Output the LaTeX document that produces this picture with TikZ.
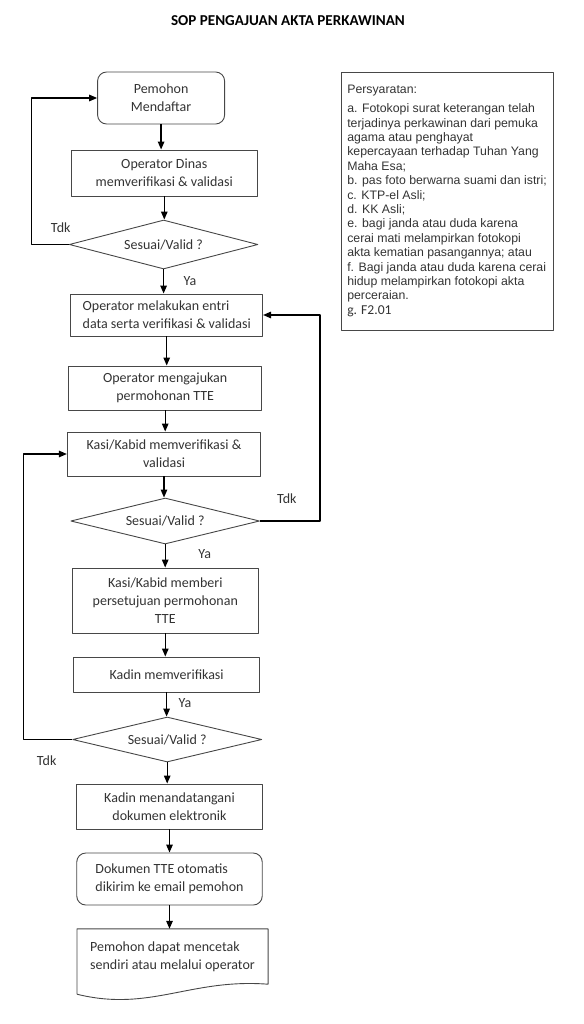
\documentclass[tikz,border=0pt]{standalone}
\usepackage{fontspec}
\setmainfont{Carlito}
\newfontfamily\arialfont{Liberation Sans}
\usetikzlibrary{shapes.geometric,arrows.meta}
\definecolor{teks}{HTML}{333333}
\definecolor{garis}{HTML}{474747}
\tikzset{
  kotak/.style={draw=garis, line width=0.9pt, rectangle, inner sep=0pt, align=center, text=teks},
  kotakr/.style={kotak, rounded corners=9pt},
  keputusan/.style={draw=garis, line width=0.9pt, diamond, aspect=3.8, inner sep=0pt, text=teks},
  panah/.style={->, line width=1.3pt, black},
  ket/.style={text=teks, inner sep=0pt},
  syarat/.style={draw=garis, line width=0.9pt, inner sep=0pt, align=left, text=teks,
    font=\arialfont\fontsize{12.3}{14.4}\selectfont},
}
\begin{document}
\begin{tikzpicture}[x=1pt, y=-1pt, >={Triangle[length=8pt,width=6.5pt]}, font=\fontsize{14}{17.7}\selectfont, line join=round]
\useasboundingbox (0,0) rectangle (583,1024);
\node[ket, text=black, font=\fontsize{15.1}{18}\selectfont\bfseries] (judul) at (288,21) {SOP PENGAJUAN AKTA PERKAWINAN};
% alur utama
\node[kotakr, minimum width=127, minimum height=52] (daftar) at (161.1,98) {Pemohon\\Mendaftar};
\node[kotak, minimum width=185.5, minimum height=46] (verif1) at (164.3,173) {Operator Dinas\\memverifikasi \& validasi};
\node[keputusan, minimum width=188.7, minimum height=49] (cek1) at (163.6,244.5) {Sesuai/Valid ?};
\node[kotak, align=left, minimum width=191.8, minimum height=42] (entri) at (166.7,315) {Operator melakukan entri\\data serta verifikasi \& validasi};
\node[kotak, minimum width=193.3, minimum height=44] (ajukan) at (165.2,388) {Operator mengajukan\\permohonan TTE};
\node[kotak, minimum width=193.3, minimum height=44] (verif2) at (164,454) {Kasi/Kabid memverifikasi \&\\validasi};
\node[keputusan, minimum width=188.8, minimum height=46] (cek2) at (165.2,521) {Sesuai/Valid ?};
\node[kotak, minimum width=185.4, minimum height=65] (setuju) at (165.3,600.5) {Kasi/Kabid memberi\\persetujuan permohonan\\TTE};
\node[kotak, minimum width=185.9, minimum height=35] (verif3) at (166.6,674.5) {Kadin memverifikasi};
\node[keputusan, minimum width=189.2, minimum height=45] (cek3) at (167.2,739.5) {Sesuai/Valid ?};
\node[kotak, minimum width=186.2, minimum height=45] (ttd) at (169.5,806.5) {Kadin menandatangani\\dokumen elektronik};
\node[kotakr, align=left, minimum width=185.5, minimum height=52] (kirim) at (169.5,879) {Dokumen TTE otomatis\\dikirim ke email pemohon};
\node[ket, align=left, minimum width=190.7, minimum height=55] (cetak) at (172.5,956.5) {Pemohon dapat mencetak\\sendiri atau melalui operator};
\draw[draw=garis, line width=0.9pt] ([shift={(0,10)}]cetak.south west) -- (cetak.north west) -- (cetak.north east) -- (cetak.south east)
  .. controls ([shift={(-77.8,-6)}]cetak.south east) and ([shift={(73,28)}]cetak.south west) .. ([shift={(0,10)}]cetak.south west);
% persyaratan
\node[syarat, minimum width=212, minimum height=258] (berkas) at (447,201) {Persyaratan:\\[4.6pt]
a. Fotokopi surat keterangan telah\\
terjadinya perkawinan dari pemuka\\
agama atau penghayat\\
kepercayaan terhadap Tuhan Yang\\
Maha Esa;\\
b. pas foto berwarna suami dan istri;\\
c. KTP-el Asli;\\
d. KK Asli;\\
e. bagi janda atau duda karena\\
cerai mati melampirkan fotokopi\\
akta kematian pasangannya; atau\\
f. Bagi janda atau duda karena cerai\\
hidup melampirkan fotokopi akta\\
perceraian.\\
{\rmfamily\fontsize{13.6}{15}\selectfont g. F2.01}};
% panah
\draw[panah] (daftar.south) -- (daftar.south |- verif1.north);
\draw[panah] (verif1.south) -- (verif1.south |- cek1.north);
\draw[panah] (cek1.south) -- (cek1.south |- entri.north);
\draw[panah] (entri.south) -- (entri.south |- ajukan.north);
\draw[panah] (ajukan.south) -- (ajukan.south |- verif2.north);
\draw[panah] (verif2.south) -- (verif2.south |- cek2.north);
\draw[panah] (cek2.south) -- (cek2.south |- setuju.north);
\draw[panah] (setuju.south) -- (setuju.south |- verif3.north);
\draw[panah] (verif3.south) -- (verif3.south |- cek3.north);
\draw[panah] (cek3.south) -- (cek3.south |- ttd.north);
\draw[panah] (ttd.south) -- (ttd.south |- kirim.north);
\draw[panah] (kirim.south) -- (kirim.south |- cetak.north);
\draw[panah] (cek1.west) -- +(-37.6,0) |- (daftar.west);
\draw[panah] (cek2.east) -- +(60,0) |- (entri.east);
\draw[panah] (cek3.west) -- +(-48.4,0) |- (verif2.west);
% label
\node[ket] (tdk1) at (60.7,228) {Tdk};
\node[ket] (ya1) at (190,281) {Ya};
\node[ket] (tdk2) at (286.8,499) {Tdk};
\node[ket] (ya2) at (204.8,554) {Ya};
\node[ket] (ya3) at (185,703) {Ya};
\node[ket] (tdk3) at (46.6,761) {Tdk};
\end{tikzpicture}
\end{document}
